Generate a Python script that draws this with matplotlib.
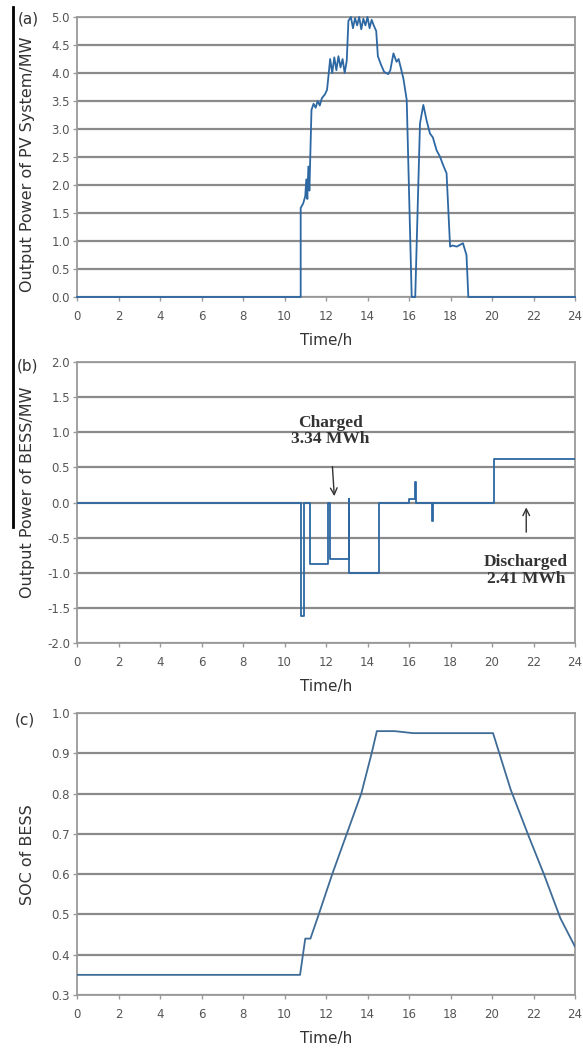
import matplotlib
matplotlib.use("Agg")
import matplotlib.pyplot as plt
from matplotlib.lines import Line2D

# ---------------- data ----------------
pv_t = [0, 10.78, 10.78, 10.9, 11.0, 11.05, 11.1, 11.15, 11.2, 11.3, 11.4, 11.5, 11.6, 11.7,
        11.8, 11.95, 12.05, 12.12, 12.2, 12.3, 12.4, 12.5, 12.6, 12.7, 12.8, 12.9, 13.0, 13.08,
        13.2, 13.3, 13.4, 13.5, 13.6, 13.7, 13.8, 13.9, 14.0, 14.1, 14.2, 14.3, 14.42, 14.5,
        14.65, 14.8, 15.0, 15.1, 15.25, 15.4, 15.5, 15.6, 15.73, 15.89, 16.13, 16.3, 16.53,
        16.69, 16.85, 17.01, 17.15, 17.33, 17.5, 17.65, 17.81, 17.98, 18.1, 18.3, 18.6, 18.77,
        18.86, 24]
pv_p = [0, 0, 1.59, 1.67, 1.8, 2.1, 1.75, 2.33, 1.9, 3.34, 3.45, 3.38, 3.5, 3.42,
        3.55, 3.62, 3.7, 3.95, 4.25, 4.0, 4.28, 4.05, 4.3, 4.1, 4.25, 4.0, 4.22, 4.93,
        5.0, 4.8, 4.98, 4.85, 5.0, 4.78, 4.97, 4.85, 5.0, 4.8, 4.95, 4.85, 4.75, 4.3,
        4.15, 4.02, 3.98, 4.05, 4.35, 4.2, 4.25, 4.1, 3.9, 3.52, 0, 0, 3.1,
        3.43, 3.15, 2.92, 2.85, 2.62, 2.5, 2.35, 2.21, 0.9, 0.92, 0.9, 0.96, 0.75,
        0, 0]

bess_t = [0, 10.8, 10.8, 10.95, 10.95, 11.25, 11.25, 12.1, 12.1, 12.2, 12.2, 13.1, 13.1, 13.1,
          14.55, 14.55, 16.0, 16.0, 16.3, 16.3, 16.35, 16.35, 17.1, 17.1, 17.15, 17.15,
          20.1, 20.1, 24]
bess_p = [0, 0, -1.62, -1.62, 0, 0, -0.88, -0.88, 0, 0, -0.81, -0.81, 0.05, -1.0,
          -1.0, 0, 0, 0.05, 0.05, 0.29, 0.29, 0, 0, -0.26, -0.26, 0,
          0, 0.62, 0.62]

soc_t = [0, 10.75, 11.0, 11.25, 11.65, 12.3, 13.0, 13.7, 14.2, 14.45, 15.3, 16.2, 20.05,
         20.9, 21.8, 22.5, 23.3, 24.0]
soc_v = [0.35, 0.35, 0.44, 0.44, 0.5, 0.6, 0.7, 0.8, 0.9, 0.955, 0.955, 0.95, 0.95,
         0.81, 0.69, 0.6, 0.49, 0.42]

x_ticks = list(range(0, 25, 2))
pv_yticks = [0.0, 0.5, 1.0, 1.5, 2.0, 2.5, 3.0, 3.5, 4.0, 4.5, 5.0]
bess_yticks = [-2.0, -1.5, -1.0, -0.5, 0.0, 0.5, 1.0, 1.5, 2.0]
soc_yticks = [0.3, 0.4, 0.5, 0.6, 0.7, 0.8, 0.9, 1.0]

charged_text = "Charged\n3.34 MWh"
discharged_text = "Discharged\n2.41 MWh"

# ---------------- figure ----------------
W, H = 583, 1051
fig = plt.figure(figsize=(W / 100, H / 100), dpi=100)
fig.patch.set_facecolor("white")

LINE = "#2d68a3"
GRID = "#8a8a8a"
SPINE = "#9a9a9a"
TXT = "#555555"


def make_ax(top, bottom):
    left, right = 77, 575
    return fig.add_axes([left / W, (H - bottom) / H, (right - left) / W, (bottom - top) / H])


def style(ax, yticks, ylim, ylabel, ypix, ylab_center):
    ax.set_xlim(0, 24)
    ax.set_ylim(*ylim)
    ax.set_xticks(x_ticks)
    ax.set_xticklabels([str(v) for v in x_ticks])
    ax.set_yticks(yticks)
    ax.set_yticklabels(["%.1f" % v for v in yticks])
    for y in yticks:
        ax.axhline(y, color=GRID, lw=1.6, zorder=1)
    for s in ax.spines.values():
        s.set_color(SPINE)
        s.set_linewidth(1.3)
    ax.tick_params(axis="both", direction="out", length=3, width=1, color=SPINE,
                   labelcolor=TXT, labelsize=8.5)
    ax.tick_params(axis="x", pad=6)
    ax.tick_params(axis="y", pad=2)
    ax.set_xlabel("Time/h", fontsize=11, color="#333333", va="center")
    ax.xaxis.set_label_coords(0.5, -43 / ypix)
    ax.set_ylabel(ylabel, fontsize=11.5, color="#333333", va="center")
    ax.yaxis.set_label_coords(-49 / 498, ylab_center)


# (a) PV output
ax1 = make_ax(17, 297)
style(ax1, pv_yticks, (0, 5.0), "Output Power of PV System/MW", 280, (297 - 164) / 280)
ax1.plot(pv_t, pv_p, color=LINE, lw=1.3, zorder=3, clip_on=False)

# (b) BESS output
ax2 = make_ax(362, 643)
style(ax2, bess_yticks, (-2.0, 2.0), "Output Power of BESS/MW", 281, (643 - 492) / 281)
ax2.plot(bess_t, bess_p, color=LINE, lw=1.3, zorder=3)
ax2.annotate(charged_text, xy=(12.4, 0.09), xytext=(12.2, 1.02), ha="center", va="center",
             fontsize=12.5, family="Liberation Serif", fontweight="bold", color="#333333",
             linespacing=1.05,
             arrowprops=dict(arrowstyle="->", color="#333333", lw=1.0,
                             shrinkA=12, shrinkB=0, mutation_scale=12), zorder=5)
ax2.annotate(discharged_text, xy=(21.65, -0.07), xytext=(21.65, -0.97), ha="center",
             va="center", fontsize=12.5, family="Liberation Serif", fontweight="bold",
             color="#333333", linespacing=1.05,
             arrowprops=dict(arrowstyle="->", color="#333333", lw=1.0,
                             shrinkA=14, shrinkB=0, mutation_scale=12), zorder=5)

# (c) SOC
ax3 = make_ax(713, 995)
style(ax3, soc_yticks, (0.3, 1.0), "SOC of BESS", 282, (995 - 855) / 282)
ax3.plot(soc_t, soc_v, color="#3f6c96", lw=1.3, zorder=3)

# panel labels
fig.text(28 / W, 1 - 19 / H, "(a)", fontsize=11, ha="center", va="center", color="#333333")
fig.text(27 / W, 1 - 366 / H, "(b)", fontsize=11, ha="center", va="center", color="#333333")
fig.text(25 / W, 1 - 720 / H, "(c)", fontsize=11, ha="center", va="center", color="#333333")

# black vertical bar at the left edge
fig.add_artist(Line2D([13 / W, 13 / W], [1 - 7 / H, 1 - 527 / H], color="black", lw=2.0,
                      transform=fig.transFigure))

fig.savefig("out.png", dpi=100, facecolor="white")
